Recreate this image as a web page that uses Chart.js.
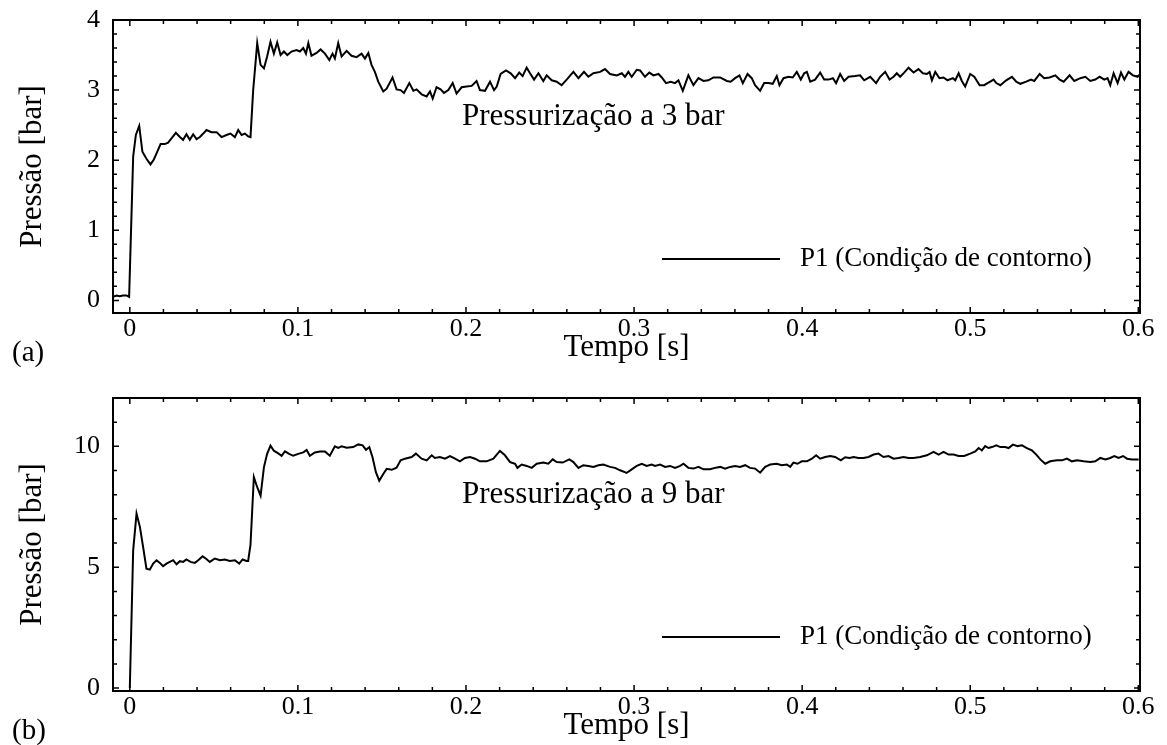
<!DOCTYPE html>
<html>
<head>
<meta charset="UTF-8">
<title>Pressurização</title>
<script src="https://cdn.jsdelivr.net/npm/chart.js"></script>
<style>
  *{margin:0; padding:0;}
  body{width:1167px; height:745px; background:#fff; position:relative; overflow:hidden;}
  canvas{position:absolute; left:0;}
  #graficoA{top:0;}
  #graficoB{top:378px;}
</style>
</head>
<body>
<canvas id="graficoA" width="1167" height="367"></canvas>
<canvas id="graficoB" width="1167" height="367"></canvas>
<script>
// (a) pressurização a 3 bar - tempo [s] e pressão [bar]
const tempoA = [
  -0.0099,-0.0079,-0.0060,-0.0040,-0.0020,-0.0004,0.0020,0.0036,0.0056,0.0075,
  0.0099,0.0123,0.0143,0.0163,0.0183,0.0208,0.0228,0.0248,0.0274,0.0298,
  0.0317,0.0337,0.0357,0.0377,0.0397,0.0417,0.0437,0.0456,0.0486,0.0516,
  0.0546,0.0575,0.0599,0.0625,0.0645,0.0665,0.0685,0.0704,0.0718,0.0734,
  0.0758,0.0778,0.0798,0.0817,0.0837,0.0857,0.0877,0.0897,0.0917,0.0937,
  0.0962,0.0992,0.1012,0.1032,0.1048,0.1062,0.1081,0.1111,0.1135,0.1161,
  0.1187,0.1206,0.1220,0.1240,0.1260,0.1290,0.1319,0.1349,0.1379,0.1399,
  0.1419,0.1438,0.1458,0.1478,
  0.1508,0.1528,0.1563,0.1587,0.1611,0.1631,0.1663,0.1687,0.1706,0.1736,
  0.1766,0.1786,0.1802,0.1825,0.1849,0.1869,0.1895,0.1921,0.1944,0.1974,
  0.2004,0.2034,0.2063,0.2083,0.2113,0.2143,0.2167,0.2183,0.2206,0.2238,
  0.2266,0.2292,0.2317,0.2337,0.2361,0.2381,0.2405,0.2431,0.2460,0.2480,
  0.2510,0.2540,0.2569,0.2599,0.2639,0.2669,0.2702,0.2728,0.2758,0.2798,
  0.2827,0.2857,0.2897,0.2927,0.2946,0.2966,0.2986,0.3016,0.3036,
  0.3065,0.3091,0.3115,0.3145,0.3165,0.3190,0.3218,0.3244,0.3264,0.3290,
  0.3323,0.3353,0.3383,0.3413,0.3442,0.3472,0.3512,0.3552,0.3575,0.3601,
  0.3627,0.3647,0.3675,0.3700,0.3720,0.3750,0.3774,0.3800,0.3825,0.3849,
  0.3865,0.3889,0.3919,0.3944,0.3968,0.3992,0.4012,0.4028,0.4048,0.4077,
  0.4107,0.4131,0.4157,0.4183,0.4202,0.4226,0.4250,0.4276,0.4315,0.4345,
  0.4369,0.4405,0.4440,0.4464,0.4494,0.4520,0.4544,0.4563,
  0.4583,0.4607,0.4633,0.4663,0.4692,0.4718,0.4742,0.4758,0.4772,0.4792,
  0.4817,0.4841,0.4865,0.4897,0.4911,0.4931,0.4950,0.4970,0.5000,0.5024,
  0.5056,0.5083,0.5103,0.5119,0.5139,0.5155,0.5179,0.5214,0.5248,0.5274,
  0.5298,0.5333,0.5361,0.5381,0.5413,0.5440,0.5472,0.5506,0.5532,0.5556,
  0.5591,0.5619,0.5655,0.5685,0.5714,0.5744,0.5770,0.5798,0.5817,0.5833,
  0.5853,0.5877,0.5897,0.5917,0.5942,0.5968,0.5996,0.6012
];
const pressaoA = [
  0.05,0.07,0.06,0.07,0.07,0.05,2.05,2.36,2.49,2.12,
  2.02,1.94,2.01,2.12,2.23,2.23,2.25,2.31,2.39,2.33,
  2.29,2.37,2.29,2.37,2.30,2.33,2.38,2.43,2.40,2.40,
  2.33,2.36,2.38,2.33,2.43,2.36,2.38,2.34,2.33,3.00,
  3.67,3.36,3.31,3.48,3.69,3.52,3.68,3.50,3.55,3.50,
  3.55,3.57,3.55,3.60,3.52,3.67,3.49,3.53,3.58,3.52,
  3.43,3.52,3.45,3.67,3.48,3.56,3.49,3.47,3.52,3.45,
  3.53,3.36,3.26,3.12,
  2.98,3.02,3.18,3.01,3.00,2.96,3.10,2.99,3.01,2.94,
  2.91,2.98,2.88,3.04,3.01,2.96,3.00,3.10,2.95,3.04,
  3.05,3.06,3.13,3.00,2.99,3.12,3.00,3.05,3.23,3.28,
  3.24,3.17,3.25,3.20,3.32,3.24,3.15,3.24,3.13,3.21,
  3.14,3.12,3.07,3.15,3.26,3.17,3.26,3.19,3.24,3.26,
  3.30,3.23,3.21,3.24,3.19,3.26,3.19,3.29,3.28,
  3.19,3.25,3.21,3.23,3.18,3.10,3.12,3.10,3.14,2.99,
  3.21,3.07,3.17,3.13,3.14,3.18,3.18,3.13,3.12,3.17,
  3.21,3.10,3.23,3.17,3.07,2.99,3.10,3.10,3.09,3.20,
  3.07,3.17,3.19,3.18,3.26,3.15,3.24,3.26,3.12,3.15,
  3.25,3.15,3.15,3.17,3.10,3.23,3.13,3.19,3.20,3.21,
  3.14,3.19,3.10,3.19,3.26,3.15,3.19,3.24,
  3.19,3.25,3.32,3.25,3.30,3.24,3.23,3.26,3.14,3.26,
  3.17,3.18,3.14,3.17,3.14,3.24,3.13,3.05,3.23,3.19,
  3.07,3.07,3.10,3.12,3.15,3.10,3.07,3.14,3.19,3.12,
  3.09,3.12,3.15,3.13,3.23,3.17,3.18,3.21,3.15,3.12,
  3.21,3.13,3.17,3.19,3.13,3.15,3.19,3.15,3.17,3.07,
  3.24,3.10,3.25,3.15,3.26,3.21,3.19,3.23
];

// (b) pressurização a 9 bar
const tempoB = [
  0.0000,0.0020,0.0040,0.0060,0.0079,0.0099,0.0119,0.0139,0.0159,0.0179,
  0.0198,0.0218,0.0238,0.0258,0.0278,0.0298,0.0317,0.0337,0.0361,0.0387,
  0.0407,0.0433,0.0452,0.0476,0.0506,0.0536,0.0565,0.0595,0.0625,0.0651,
  0.0671,0.0694,0.0704,0.0718,0.0738,0.0758,0.0778,0.0798,0.0817,0.0837,
  0.0857,0.0883,0.0903,0.0923,0.0948,0.0972,0.1002,0.1032,0.1052,0.1071,
  0.1101,0.1131,0.1161,0.1190,0.1220,0.1240,0.1260,0.1290,0.1329,0.1359,
  0.1385,0.1405,0.1425,0.1444,0.1464,0.1484,0.1508,0.1528,0.1558,0.1587,
  0.1611,0.1637,0.1677,0.1702,0.1736,0.1766,0.1796,0.1815,0.1845,0.1875,
  0.1905,0.1935,0.1964,0.1994,0.2024,0.2054,0.2083,0.2123,0.2163,0.2202,
  0.2232,0.2262,0.2292,0.2306,0.2331,0.2361,0.2391,0.2421,0.2460,0.2490,
  0.2516,0.2540,0.2575,0.2615,0.2639,0.2669,0.2698,0.2728,0.2758,0.2788,
  0.2817,0.2857,0.2887,0.2917,0.2956,0.2986,0.3016,0.3046,0.3075,0.3105,
  0.3125,0.3155,0.3185,0.3214,0.3244,0.3274,0.3294,0.3323,0.3353,0.3383,
  0.3413,0.3452,0.3482,0.3512,0.3542,0.3571,0.3601,0.3631,0.3661,0.3690,
  0.3720,0.3750,
  0.3780,0.3810,0.3849,0.3879,0.3909,0.3929,0.3948,0.3972,0.3998,0.4028,
  0.4058,0.4083,0.4107,0.4137,0.4167,0.4196,0.4230,0.4256,0.4282,0.4306,
  0.4335,0.4365,0.4395,0.4425,0.4454,0.4484,0.4514,0.4544,0.4573,0.4603,
  0.4633,0.4663,0.4702,0.4742,0.4782,0.4812,0.4841,0.4871,0.4901,0.4931,
  0.4964,0.5000,0.5030,0.5050,0.5069,0.5089,0.5109,0.5129,0.5155,0.5179,
  0.5208,0.5228,0.5254,0.5282,0.5308,0.5337,0.5367,0.5393,0.5417,0.5446,
  0.5476,0.5516,0.5546,0.5575,0.5605,0.5635,0.5675,0.5714,0.5744,0.5774,
  0.5804,0.5833,0.5857,0.5883,0.5909,0.5933,0.5962,0.6002
];
const pressaoB = [
  0.00,5.70,7.22,6.67,5.84,4.94,4.90,5.15,5.29,5.18,
  5.04,5.15,5.22,5.29,5.12,5.25,5.22,5.32,5.22,5.18,
  5.29,5.45,5.36,5.22,5.36,5.29,5.32,5.26,5.29,5.15,
  5.32,5.26,5.26,5.92,8.73,8.31,7.96,9.14,9.69,10.03,
  9.82,9.71,9.61,9.79,9.69,9.61,9.69,9.75,9.85,9.61,
  9.75,9.79,9.79,9.61,10.00,9.94,10.00,9.94,9.97,10.08,
  10.04,9.86,9.97,9.55,8.93,8.58,8.86,9.07,9.03,9.12,
  9.42,9.49,9.56,9.70,9.49,9.42,9.63,9.52,9.56,9.49,
  9.60,9.49,9.38,9.52,9.56,9.49,9.38,9.38,9.49,9.81,
  9.63,9.35,9.28,9.11,9.25,9.19,9.11,9.28,9.33,9.28,
  9.46,9.35,9.33,9.46,9.35,9.11,9.22,9.19,9.15,9.22,
  9.25,9.15,9.11,9.01,8.90,9.05,9.19,9.28,9.19,9.25,
  9.19,9.25,9.15,9.19,9.11,9.19,9.28,9.11,9.08,9.15,
  9.05,9.05,9.11,9.15,9.08,9.15,9.19,9.15,9.22,9.11,
  9.08,8.91,
  9.15,9.25,9.28,9.22,9.25,9.15,9.33,9.28,9.38,9.38,
  9.49,9.63,9.49,9.56,9.60,9.56,9.42,9.55,9.52,9.56,
  9.52,9.52,9.56,9.66,9.70,9.56,9.60,9.49,9.52,9.56,
  9.52,9.52,9.56,9.63,9.77,9.66,9.77,9.66,9.66,9.60,
  9.60,9.70,9.79,9.93,9.83,10.01,9.93,9.97,10.04,9.97,
  9.97,9.93,10.07,10.01,10.04,9.93,9.83,9.66,9.46,9.28,
  9.38,9.42,9.42,9.49,9.38,9.42,9.38,9.35,9.38,9.52,
  9.46,9.52,9.60,9.52,9.60,9.49,9.46,9.46
];

const fonte = "'Liberation Serif', 'Times New Roman', serif";
Chart.defaults.font.family = fonte;
Chart.defaults.color = '#000';

// moldura com marcas para dentro nos 4 lados + textos
const moldura = {
  id: 'moldura',
  afterDatasetsDraw(chart, args, o) {
    const {ctx, chartArea: a, scales: {x, y}} = chart;
    const w = a.right - a.left, h = a.bottom - a.top;
    ctx.save();
    ctx.strokeStyle = '#000';
    ctx.lineWidth = 1.5;
    ctx.beginPath();
    for (let i = Math.ceil(x.min / o.xMenor - 1e-6); i * o.xMenor <= x.max + 1e-9; i++) {
      const px = x.getPixelForValue(i * o.xMenor);
      const len = i % 5 === 0 ? 6 : 4;
      ctx.moveTo(px, a.bottom); ctx.lineTo(px, a.bottom - len);
      ctx.moveTo(px, a.top); ctx.lineTo(px, a.top + len);
    }
    for (let i = Math.ceil(y.min / o.yMenor - 1e-6); i * o.yMenor <= y.max + 1e-9; i++) {
      const py = y.getPixelForValue(i * o.yMenor);
      const len = i % 5 === 0 ? 6 : 4;
      ctx.moveTo(a.left, py); ctx.lineTo(a.left + len, py);
      ctx.moveTo(a.right, py); ctx.lineTo(a.right - len, py);
    }
    ctx.stroke();
    ctx.lineWidth = 2;
    ctx.strokeRect(a.left, a.top, w, h);

    ctx.fillStyle = '#000';
    ctx.textAlign = 'left';
    ctx.textBaseline = 'alphabetic';
    ctx.font = '31px ' + fonte;
    ctx.fillText(o.anotacao, a.left + 0.3398 * w, a.top + 0.358 * h);

    // legenda
    const ly = a.top + 0.8157 * h;
    ctx.beginPath();
    ctx.moveTo(a.left + 0.5346 * w, ly);
    ctx.lineTo(a.left + 0.6495 * w, ly);
    ctx.stroke();
    ctx.font = '27px ' + fonte;
    ctx.textBaseline = 'middle';
    ctx.fillText(o.legenda, a.left + 0.669 * w, ly);

    ctx.textBaseline = 'alphabetic';
    ctx.font = '29px ' + fonte;
    ctx.fillText(o.painel, 12, chart.height - 6);
    ctx.restore();
  }
};

function grafico(id, tempo, pressao, yMin, yMax, yPasso, yMenor, anotacao, painel) {
  return new Chart(document.getElementById(id), {
    type: 'line',
    data: {
      datasets: [{
        label: 'P1 (Condição de contorno)',
        data: tempo.map((t, i) => ({x: t, y: pressao[i]})),
        borderColor: '#000',
        borderWidth: 2,
        pointRadius: 0,
        tension: 0,
        fill: false
      }]
    },
    options: {
      responsive: false,
      animation: false,
      devicePixelRatio: 1,
      layout: {padding: {top: 20, right: 27, left: 0, bottom: 0}},
      plugins: {
        legend: {display: false},
        tooltip: {enabled: false},
        moldura: {xMenor: 0.02, yMenor: yMenor, anotacao: anotacao,
                  legenda: 'P1 (Condição de contorno)', painel: painel}
      },
      scales: {
        x: {
          type: 'linear', min: -0.01, max: 0.601,
          grid: {display: false, drawTicks: false},
          border: {display: false},
          ticks: {stepSize: 0.1, includeBounds: false, padding: 1, maxRotation: 0,
                  autoSkip: false, font: {size: 26},
                  callback: v => String(Math.round(v * 10) / 10)},
          title: {display: true, text: 'Tempo [s]', font: {size: 31}, padding: {top: 0, bottom: 1}},
          afterFit: s => { s.height = 54; }
        },
        y: {
          min: yMin, max: yMax,
          grid: {display: false, drawTicks: false},
          border: {display: false},
          ticks: {stepSize: yPasso, includeBounds: false, padding: 13, font: {size: 26},
                  callback: v => String(Math.round(v))},
          title: {display: true, text: 'Pressão [bar]', font: {size: 31}, padding: {top: 14, bottom: 0}},
          afterFit: s => { s.width = 113; s.paddingTop = 0; s.paddingBottom = 0; }
        }
      }
    },
    plugins: [moldura]
  });
}

grafico('graficoA', tempoA, pressaoA, -0.18, 4, 1, 0.2, 'Pressurização a 3 bar', '(a)');
grafico('graficoB', tempoB, pressaoB, -0.12, 12, 5, 1, 'Pressurização a 9 bar', '(b)');
</script>
</body>
</html>
